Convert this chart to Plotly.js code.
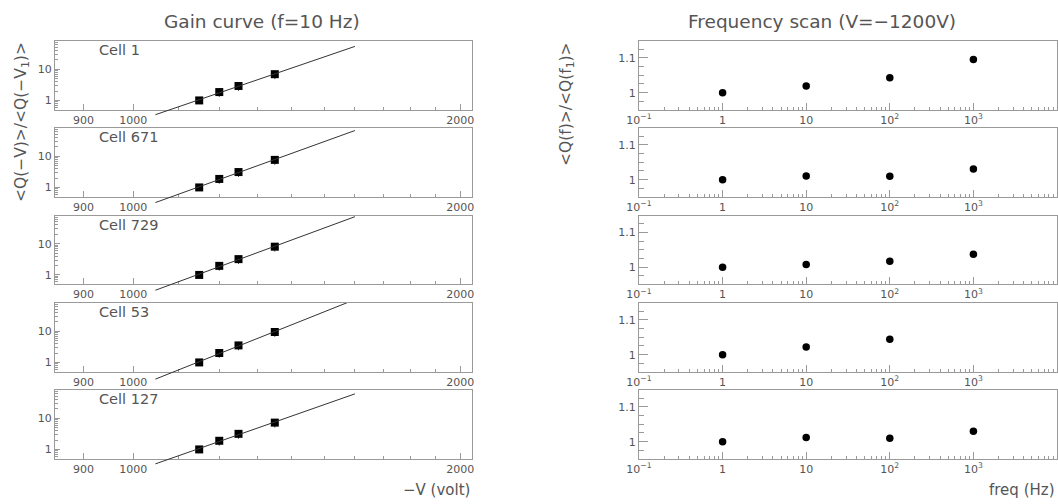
<!DOCTYPE html>
<html><head><meta charset="utf-8">
<script src="https://cdn.plot.ly/plotly-3.0.1.min.js"></script>
<style>html,body{margin:0;padding:0;background:#fff}#chart{width:1058px;height:504px}</style>
</head><body><div id="chart"></div>
<script>
// ---- data ----
const cellNames = ["Cell 1", "Cell 671", "Cell 729", "Cell 53", "Cell 127"];
const voltages = [1150, 1200, 1250, 1350];
const gainCell1   = [1.0, 1.85, 2.9, 6.9];
const gainCell671 = [1.0, 1.87, 3.1, 7.6];
const gainCell729 = [1.0, 1.95, 3.2, 8.0];
const gainCell53  = [1.0, 2.0, 3.5, 9.4];
const gainCell127 = [1.0, 1.89, 3.15, 7.2];
const gainErrCell1   = [0.05, 0.55, 0.87, 2.1];
const gainErrCell671 = [0.05, 0.56, 0.93, 2.3];
const gainErrCell729 = [0.05, 0.58, 0.96, 2.4];
const gainErrCell53  = [0.05, 0.6, 1.05, 2.8];
const gainErrCell127 = [0.05, 0.57, 0.95, 2.2];
const fitVoltRange = [1048, 1600];

const freqs = [1, 10, 100, 1000];
const ratioCell1   = [1.0, 1.019, 1.043, 1.095];
const ratioCell671 = [1.0, 1.011, 1.010, 1.031];
const ratioCell729 = [1.0, 1.008, 1.017, 1.037];
const ratioCell53  = [1.0, 1.022, 1.044];
const ratioCell127 = [1.0, 1.012, 1.010, 1.030];

const voltTickVals = [900, 1000, 2000];
const voltTickText = ["900", "1000", "2000"];
const gainTickVals = [1, 10];
const gainTickText = ["1", "10"];
const freqTickVals = [0.1, 1, 10, 100, 1000];
const freqTickText = ["10<sup>\u22121</sup>", "1", "10", "10<sup>2</sup>", "10<sup>3</sup>"];
const ratioTickVals = [1, 1.1];
const ratioTickText = ["1", "1.1"];

const gains = [gainCell1, gainCell671, gainCell729, gainCell53, gainCell127];
const gainErrs = [gainErrCell1, gainErrCell671, gainErrCell729, gainErrCell53, gainErrCell127];
const ratios = [ratioCell1, ratioCell671, ratioCell729, ratioCell53, ratioCell127];

// ---- layout geometry ----
const W = 1058, H = 504;
const leftDom = [55 / W, 472 / W];
const rightDom = [639 / W, 1057 / W];
const panelTops = [41, 128, 215.5, 303, 390];
const panelH = 68.5;
const voltRange = [Math.log10(847), Math.log10(2051)];
const gainRange = [-0.29, 1.9];
const freqRange = [-1, 4];
const ratioRange = [0.952, 1.148];
const extPx = 14;

const txtCol = "#555";
const lineCol = "#9a9a9a";
const font = "DejaVu Sans, Verdana, sans-serif";

function minorLogVals(from, to) {
  const v = [];
  for (let e = from; e <= to; e++) {
    for (let d = 2; d <= 9; d++) v.push(d * Math.pow(10, e));
  }
  return v;
}

const traces = [];
const layout = {
  width: W, height: H,
  margin: {l: 0, r: 0, t: 0, b: 0},
  paper_bgcolor: "#fff", plot_bgcolor: "rgba(0,0,0,0)",
  showlegend: false,
  font: {family: font, color: txtCol, size: 11},
  annotations: []
};

const baseAxis = {
  showline: true, mirror: true, linecolor: lineCol, linewidth: 1,
  ticks: "inside", tickcolor: lineCol, tickwidth: 1,
  showgrid: false, zeroline: false, fixedrange: true,
  tickfont: {family: font, color: txtCol, size: 11}
};

for (let i = 0; i < 5; i++) {
  const top = panelTops[i];
  const dom = [1 - (top + panelH) / H, 1 - top / H];
  const lx = 2 * i + 1, rx = 2 * i + 2;
  const lname = lx === 1 ? "" : String(lx);
  layout["xaxis" + lname] = Object.assign({}, baseAxis, {
    type: "log", domain: leftDom, range: voltRange, anchor: "y" + lname,
    tickmode: "array", tickvals: voltTickVals, ticktext: voltTickText, ticklen: 6,
    minor: {tickmode: "array", tickvals: [1100,1200,1300,1400,1500,1600,1700,1800,1900],
            ticks: "inside", ticklen: 3, tickcolor: lineCol}
  });
  layout["yaxis" + lname] = Object.assign({}, baseAxis, {
    type: "log", domain: dom, range: gainRange, anchor: "x" + lname,
    tickmode: "array", tickvals: gainTickVals, ticktext: gainTickText, ticklen: 5,
    minor: {tickmode: "array", tickvals: minorLogVals(-1, 1), ticks: "inside", ticklen: 3, tickcolor: lineCol}
  });
  layout["xaxis" + rx] = Object.assign({}, baseAxis, {
    type: "log", domain: rightDom, range: freqRange, anchor: "y" + rx,
    tickmode: "array", tickvals: freqTickVals, ticktext: freqTickText, ticklen: 7,
    minor: {tickmode: "array", tickvals: minorLogVals(-1, 3), ticks: "inside", ticklen: 3, tickcolor: lineCol}
  });
  layout["yaxis" + rx] = Object.assign({}, baseAxis, {
    type: "linear", domain: dom, range: ratioRange, anchor: "x" + rx,
    tickmode: "array", tickvals: ratioTickVals, ticktext: ratioTickText, ticklen: 9,
    minor: {tickmode: "linear", tick0: 0, dtick: 0.025, ticks: "inside", ticklen: 5, tickcolor: lineCol}
  });
  // extended invisible axes so the fit line runs a little past the frame, as in the original
  const fx = 11 + i;
  const extFrac = extPx / H;
  const extDec = (gainRange[1] - gainRange[0]) * extPx / panelH;
  layout["xaxis" + fx] = {type: "log", domain: leftDom, range: voltRange, visible: false, anchor: "y" + fx, fixedrange: true};
  layout["yaxis" + fx] = {type: "log", domain: [dom[0] - extFrac, dom[1]], range: [gainRange[0] - extDec, gainRange[1]],
                          visible: false, anchor: "x" + fx, fixedrange: true};

  // power-law fit, least squares in log-log
  const lxv = voltages.map(v => Math.log10(v));
  const lyv = gains[i].map(g => Math.log10(g));
  const n = lxv.length;
  const mx = lxv.reduce((a, b) => a + b, 0) / n;
  const my = lyv.reduce((a, b) => a + b, 0) / n;
  let sxy = 0, sxx = 0;
  for (let k = 0; k < n; k++) { sxy += (lxv[k] - mx) * (lyv[k] - my); sxx += (lxv[k] - mx) ** 2; }
  const slope = sxy / sxx, icpt = my - slope * mx;
  const fitY = fitVoltRange.map(v => Math.pow(10, icpt + slope * Math.log10(v)));
  traces.push({
    x: fitVoltRange, y: fitY, xaxis: "x" + fx, yaxis: "y" + fx,
    mode: "lines", line: {color: "#333", width: 1}, hoverinfo: "skip"
  });
  traces.push({
    x: voltages, y: gains[i], xaxis: "x" + lname, yaxis: "y" + lname,
    mode: "markers", marker: {symbol: "square", size: 8, color: "#000"},
    error_y: {type: "data", array: gainErrs[i], color: "#444", thickness: 1, width: 0},
    cliponaxis: false
  });
  traces.push({
    x: freqs.slice(0, ratios[i].length), y: ratios[i], xaxis: "x" + rx, yaxis: "y" + rx,
    mode: "markers", marker: {symbol: "circle", size: 7.5, color: "#000"}
  });
  layout.annotations.push({
    xref: "paper", yref: "paper", x: 97 / W, y: 1 - (top + 9) / H,
    xanchor: "left", yanchor: "middle", showarrow: false,
    text: cellNames[i], font: {family: font, size: 14.5, color: txtCol}
  });
}

const ann = (text, x, y, xa, ya, size, angle) => ({
  xref: "paper", yref: "paper", x: x / W, y: 1 - y / H, xanchor: xa, yanchor: ya,
  showarrow: false, text: text, textangle: angle || 0,
  font: {family: font, size: size, color: txtCol}
});
layout.annotations.push(ann("Gain curve (f=10 Hz)", 262, 22, "center", "middle", 18.5));
layout.annotations.push(ann("Frequency scan (V=\u22121200V)", 822, 22, "center", "middle", 18.5));
layout.annotations.push(ann("&lt;Q(\u2212V)&gt;/&lt;Q(\u2212V<sub>1</sub>)&gt;", 22, 40, "center", "top", 15.5, -90));
layout.annotations.push(ann("&lt;Q(f)&gt;/&lt;Q(f<sub>1</sub>)&gt;", 567, 40, "center", "top", 15.5, -90));
layout.annotations.push(ann("\u2212V (volt)", 472, 490, "right", "middle", 15));
layout.annotations.push(ann("freq (Hz)", 1057, 490, "right", "middle", 15));

Plotly.newPlot("chart", traces, layout, {staticPlot: true, displayModeBar: false});
</script>
</body></html>
